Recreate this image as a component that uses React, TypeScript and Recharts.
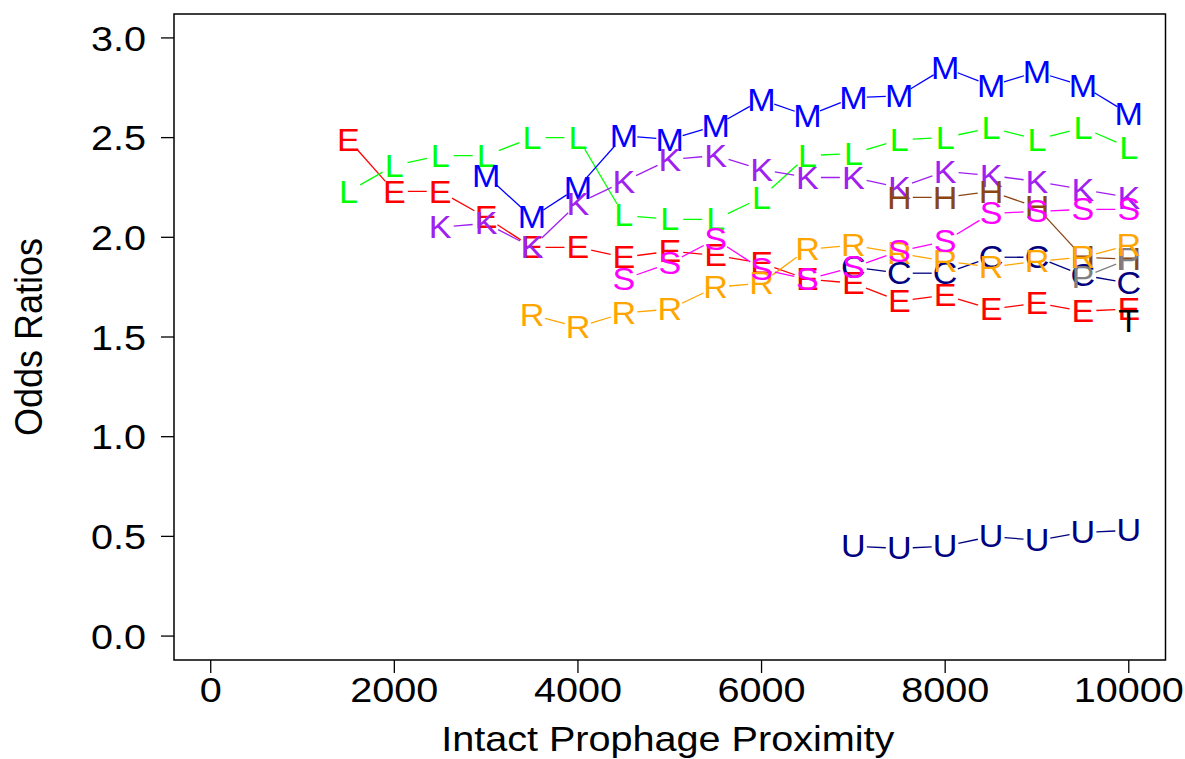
import { ScatterChart, Scatter, XAxis, YAxis, ReferenceArea } from 'recharts';

// distance bins (bp) shared by every series
const dist = [1500, 2000, 2500, 3000, 3500, 4000, 4500, 5000, 5500, 6000, 6500, 7000, 7500, 8000, 8500, 9000, 9500, 10000];

const seriesE = [2.49, 2.23, 2.23, 2.10, 1.95, 1.95, 1.90, 1.93, 1.91, 1.87, 1.79, 1.77, 1.68, 1.71, 1.64, 1.67, 1.63, 1.64];
const seriesL = [2.23, 2.36, 2.41, 2.41, 2.50, 2.50, 2.11, 2.09, 2.09, 2.20, 2.41, 2.42, 2.49, 2.50, 2.55, 2.49, 2.55, 2.45];
const seriesM = [null, null, null, 2.31, 2.10, 2.25, 2.51, 2.49, 2.56, 2.69, 2.61, 2.70, 2.71, 2.85, 2.76, 2.83, 2.76, 2.62];
const seriesK = [null, null, 2.05, 2.07, 1.95, 2.17, 2.28, 2.39, 2.41, 2.34, 2.30, 2.30, 2.25, 2.33, 2.31, 2.28, 2.24, 2.20];
const seriesH = [null, null, null, null, null, null, null, null, null, null, null, null, 2.20, 2.20, 2.23, 2.15, 1.90, 1.89];
const seriesC = [null, null, null, null, null, null, null, null, null, null, null, 1.85, 1.82, 1.82, 1.90, 1.90, 1.81, 1.77];
const seriesU = [null, null, null, null, null, null, null, null, null, null, null, 0.45, 0.44, 0.45, 0.50, 0.48, 0.52, 0.53];
const seriesP = [null, null, null, null, null, null, null, null, null, null, null, null, null, null, null, null, 1.80, 1.89];
const seriesR = [null, null, null, null, 1.61, 1.55, 1.62, 1.64, 1.75, 1.77, 1.94, 1.96, 1.92, 1.88, 1.85, 1.88, 1.90, 1.96];
const seriesS = [null, null, null, null, null, null, 1.79, 1.87, 1.99, 1.84, 1.79, 1.85, 1.93, 1.98, 2.12, 2.13, 2.14, 2.14];
const seriesT = [null, null, null, null, null, null, null, null, null, null, null, null, null, null, null, null, null, 1.58];

const xTicks = [0, 2000, 4000, 6000, 8000, 10000];
const yTicks = [0, 0.5, 1, 1.5, 2, 2.5, 3];

// drawing order matters where letters overlap
const series = [
  { key: 'E', color: '#ff0000', values: seriesE },
  { key: 'L', color: '#00ff00', values: seriesL },
  { key: 'M', color: '#0000ff', values: seriesM },
  { key: 'K', color: '#a020f0', values: seriesK },
  { key: 'H', color: '#8b4513', values: seriesH },
  { key: 'C', color: '#000080', values: seriesC },
  { key: 'U', color: '#000080', values: seriesU },
  { key: 'P', color: '#808080', values: seriesP },
  { key: 'R', color: '#ffa500', values: seriesR },
  { key: 'S', color: '#ff00ff', values: seriesS },
  { key: 'T', color: '#000000', values: seriesT },
];

const FONT = '"Liberation Sans", Arial, Helvetica, sans-serif';
const LETTER_SIZE = 31;
const GAP = 13.5;
// the source image is a bit wider than tall, so glyphs come out stretched
const SX = 1.1;

const toPoints = (values: (number | null)[]) =>
  dist.map((x, i) => ({ x, y: values[i] })).filter((d) => d.y !== null);

// R type="b": segments stop short of each plotting character
const gappedLine = (color: string) => (props: any) => {
  const pts = props.points || [];
  const segs = [];
  for (let i = 1; i < pts.length; i++) {
    const a = pts[i - 1];
    const b = pts[i];
    const dx = b.x - a.x;
    const dy = b.y - a.y;
    const d = Math.sqrt(dx * dx + dy * dy);
    if (d <= 2 * GAP) continue;
    const ux = dx / d;
    const uy = dy / d;
    segs.push(
      <line key={i} x1={a.x + ux * GAP} y1={a.y + uy * GAP} x2={b.x - ux * GAP} y2={b.y - uy * GAP}
        stroke={color} strokeWidth={1.3} />
    );
  }
  return <g>{segs}</g>;
};

const letterShape = (letter: string, color: string) => (props: any) => {
  const { cx, cy } = props;
  if (cx == null || cy == null) return <g />;
  return (
    <text x={0} y={0} transform={`translate(${cx} ${cy + LETTER_SIZE * 0.358}) scale(${SX} 1)`}
      textAnchor="middle" fontSize={LETTER_SIZE} fontFamily={FONT} fill={color}>{letter}</text>
  );
};

const XTick = (props: any) => {
  const { x, y, payload } = props;
  return (
    <text x={0} y={0} dy="0.71em" transform={`translate(${x} ${y}) scale(${SX} 1)`} textAnchor="middle"
      fontSize={36} fontFamily={FONT} fill="#000">{payload.value}</text>
  );
};

const YTick = (props: any) => {
  const { x, y, payload } = props;
  return (
    <text x={0} y={0} dy="0.355em" transform={`translate(${x} ${y}) scale(${SX} 1)`} textAnchor="end"
      fontSize={36} fontFamily={FONT} fill="#000">{Number(payload.value).toFixed(1)}</text>
  );
};

const yLabel = (props: any) => {
  const vb = props.viewBox || { y: 14, height: 646 };
  const cy = vb.y + vb.height / 2;
  return (
    <text x={0} y={0} transform={`translate(41.5 ${cy}) scale(${SX} 1) rotate(-90)`} textAnchor="middle"
      fontSize={36} fontFamily={FONT} fill="#000">Odds Ratios</text>
  );
};

const xLabel = (props: any) => {
  const vb = props.viewBox || { x: 174, width: 991 };
  return (
    <text x={0} y={0} transform={`translate(${vb.x + vb.width / 2 - 2} 751) scale(${SX} 1)`} textAnchor="middle"
      fontSize={36} fontFamily={FONT} fill="#000">
      Intact Prophage Proximity
    </text>
  );
};

export default function App() {
  return (
    <div style={{ position: 'absolute', left: 0, top: 0, width: 1185, height: 759, background: '#fff' }}>
      <ScatterChart width={1185} height={759} margin={{ top: 14, right: 19.5, bottom: 0, left: 0 }}>
        <XAxis type="number" dataKey="x" domain={[-400, 10400]} ticks={xTicks} allowDataOverflow
          height={99} axisLine={false} tickSize={13} tickMargin={3}
          tickLine={{ stroke: '#000', strokeWidth: 1.3 }}
          tick={XTick} label={xLabel} />
        <YAxis type="number" dataKey="y" domain={[-0.12, 3.12]} ticks={yTicks} allowDataOverflow
          width={174} axisLine={false} tickSize={13} tickMargin={15}
          tickLine={{ stroke: '#000', strokeWidth: 1.3 }}
          tick={YTick} label={yLabel} />
        <ReferenceArea x1={-400} x2={10400} y1={-0.12} y2={3.12} fill="none" fillOpacity={0}
          stroke="#000" strokeWidth={1.5} />
        {series.map((s) => (
          <Scatter key={s.key} name={s.key} data={toPoints(s.values)} fill={s.color}
            line={gappedLine(s.color)} lineType="joint"
            shape={letterShape(s.key, s.color)} isAnimationActive={false} />
        ))}
      </ScatterChart>
    </div>
  );
}
